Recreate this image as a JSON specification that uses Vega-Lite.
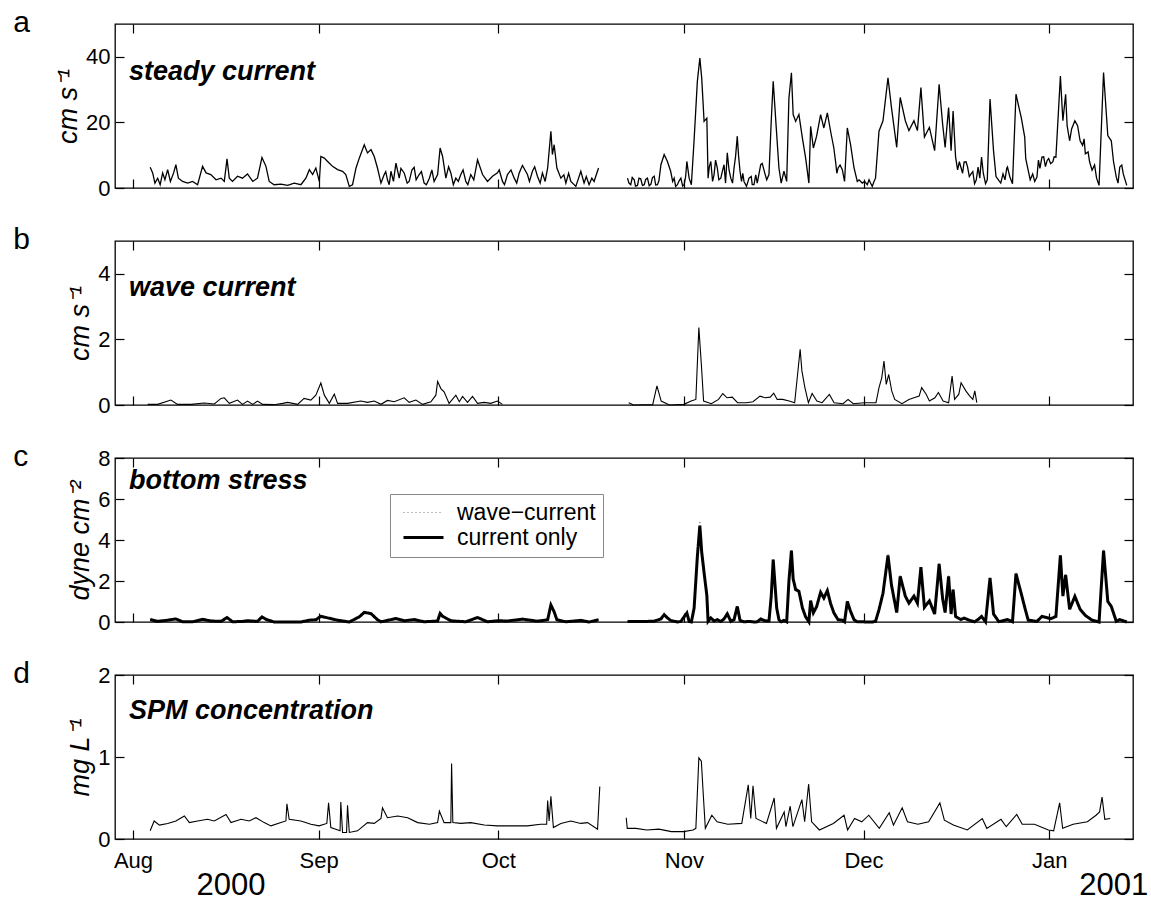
{
"$schema": "https://vega.github.io/schema/vega-lite/v6.json",
"padding": {"left": 12, "top": 7, "right": 2, "bottom": 2},
"background": "white",
"spacing": 53,
"bounds": "flush",
"config": {
  "font": "Liberation Sans",
  "view": {"stroke": "black", "strokeWidth": 1.3},
  "axis": {"grid": false, "domain": false, "tickColor": "black", "tickWidth": 1.2, "tickSize": -9, "labelColor": "black", "labelFont": "Liberation Sans", "labelFontSize": 22, "titleColor": "black", "titleFont": "Liberation Sans", "titleFontSize": 27, "titleFontStyle": "italic", "titleFontWeight": "normal", "labelOverlap": false, "labelFlush": false},
  "axisLeft": {"labelPadding": 14, "titlePadding": 3, "format": "d"},
  "axisBottom": {"labelPadding": 20},
  "text": {"font": "Liberation Sans", "color": "black"}
},
"datasets": {
"a": [
{"t":"2000-08-03T21:00","v":6.3},{"t":"2000-08-04T07:00","v":4.6},{"t":"2000-08-04T16:00","v":1.5},{"t":"2000-08-05T03:00","v":3.0},{"t":"2000-08-05T13:00","v":1.0},{"t":"2000-08-05T23:00","v":4.6},{"t":"2000-08-06T08:00","v":2.5},{"t":"2000-08-06T19:00","v":5.6},{"t":"2000-08-07T06:00","v":2.0},{"t":"2000-08-07T19:00","v":4.6},{"t":"2000-08-08T04:00","v":7.1},{"t":"2000-08-08T14:00","v":3.0},{"t":"2000-08-09T07:00","v":2.0},{"t":"2000-08-10T03:00","v":1.5},{"t":"2000-08-10T23:00","v":2.0},{"t":"2000-08-11T19:00","v":1.0},{"t":"2000-08-12T15:00","v":6.6},{"t":"2000-08-13T05:00","v":4.6},{"t":"2000-08-14T00:00","v":4.1},{"t":"2000-08-14T21:00","v":2.5},{"t":"2000-08-15T17:00","v":3.0},{"t":"2000-08-16T06:00","v":2.0},{"t":"2000-08-16T17:00","v":8.9},{"t":"2000-08-17T02:00","v":3.0},{"t":"2000-08-17T15:00","v":2.0},{"t":"2000-08-18T11:00","v":3.6},{"t":"2000-08-19T07:00","v":3.0},{"t":"2000-08-20T03:00","v":4.3},{"t":"2000-08-21T00:00","v":2.0},{"t":"2000-08-21T19:00","v":3.0},{"t":"2000-08-22T13:00","v":9.3},{"t":"2000-08-23T05:00","v":6.6},{"t":"2000-08-23T18:00","v":2.0},{"t":"2000-08-24T14:00","v":1.0},{"t":"2000-08-25T17:00","v":1.2},{"t":"2000-08-26T20:00","v":0.8},{"t":"2000-08-27T22:00","v":1.5},{"t":"2000-08-29T01:00","v":1.0},{"t":"2000-08-29T21:00","v":3.0},{"t":"2000-08-30T11:00","v":5.6},{"t":"2000-08-31T00:00","v":4.1},{"t":"2000-08-31T13:00","v":6.1},{"t":"2000-09-01T03:00","v":2.0},{"t":"2000-09-01T09:00","v":9.6},{"t":"2000-09-01T23:00","v":9.1},{"t":"2000-09-02T12:00","v":8.1},{"t":"2000-09-03T08:00","v":6.6},{"t":"2000-09-04T04:00","v":5.6},{"t":"2000-09-05T00:00","v":5.1},{"t":"2000-09-05T13:00","v":4.1},{"t":"2000-09-06T03:00","v":0.5},{"t":"2000-09-06T16:00","v":1.0},{"t":"2000-09-07T06:00","v":6.1},{"t":"2000-09-07T19:00","v":9.1},{"t":"2000-09-08T15:00","v":13.2},{"t":"2000-09-09T04:00","v":10.7},{"t":"2000-09-09T18:00","v":11.7},{"t":"2000-09-10T07:00","v":9.6},{"t":"2000-09-10T20:00","v":6.1},{"t":"2000-09-11T10:00","v":1.5},{"t":"2000-09-11T23:00","v":4.1},{"t":"2000-09-12T12:00","v":2.5},{"t":"2000-09-13T02:00","v":5.1},{"t":"2000-09-13T22:00","v":7.6},{"t":"2000-09-14T11:00","v":3.0},{"t":"2000-09-15T07:00","v":4.6},{"t":"2000-09-16T03:00","v":2.0},{"t":"2000-09-16T23:00","v":6.3},{"t":"2000-09-17T19:00","v":4.1},{"t":"2000-09-18T15:00","v":1.5},{"t":"2000-09-19T12:00","v":3.0},{"t":"2000-09-20T07:00","v":2.0},{"t":"2000-09-20T21:00","v":4.1},{"t":"2000-09-21T07:00","v":12.2},{"t":"2000-09-21T17:00","v":9.6},{"t":"2000-09-22T06:00","v":3.0},{"t":"2000-09-23T02:00","v":4.6},{"t":"2000-09-23T22:00","v":3.0},{"t":"2000-09-24T18:00","v":4.1},{"t":"2000-09-25T14:00","v":2.0},{"t":"2000-09-26T10:00","v":4.1},{"t":"2000-09-27T13:00","v":8.6},{"t":"2000-09-28T09:00","v":4.1},{"t":"2000-09-29T05:00","v":2.0},{"t":"2000-09-30T01:00","v":3.6},{"t":"2000-09-30T21:00","v":4.6},{"t":"2000-10-01T17:00","v":2.0},{"t":"2000-10-02T13:00","v":4.1},{"t":"2000-10-03T16:00","v":3.0},{"t":"2000-10-04T12:00","v":4.6},{"t":"2000-10-05T01:00","v":6.9},{"t":"2000-10-05T21:00","v":4.1},{"t":"2000-10-06T17:00","v":5.1},{"t":"2000-10-07T13:00","v":3.6},{"t":"2000-10-08T09:00","v":4.6},{"t":"2000-10-09T06:00","v":6.1},{"t":"2000-10-09T19:00","v":17.3},{"t":"2000-10-10T01:00","v":10.2},{"t":"2000-10-10T08:00","v":13.2},{"t":"2000-10-10T19:00","v":6.1},{"t":"2000-10-11T11:00","v":3.0},{"t":"2000-10-12T07:00","v":1.5},{"t":"2000-10-13T03:00","v":2.0},{"t":"2000-10-13T23:00","v":0.5},{"t":"2000-10-14T19:00","v":5.1},{"t":"2000-10-15T08:00","v":1.5},{"t":"2000-10-16T04:00","v":1.0},{"t":"2000-10-17T00:00","v":2.0},{"t":"2000-10-17T18:00","v":6.1},
{"t":"2000-10-20T00:00","v":null},
{"t":"2000-10-22T14:00","v":3.0},{"t":"2000-10-23T03:00","v":1.0},{"t":"2000-10-23T17:00","v":2.5},{"t":"2000-10-24T06:00","v":0.8},{"t":"2000-10-24T19:00","v":2.8},{"t":"2000-10-25T09:00","v":1.0},{"t":"2000-10-25T22:00","v":3.0},{"t":"2000-10-26T12:00","v":1.2},{"t":"2000-10-27T01:00","v":3.6},{"t":"2000-10-27T14:00","v":1.0},{"t":"2000-10-28T04:00","v":7.1},{"t":"2000-10-28T17:00","v":10.2},{"t":"2000-10-29T06:00","v":8.1},{"t":"2000-10-29T19:00","v":5.1},{"t":"2000-10-30T09:00","v":3.0},{"t":"2000-10-30T22:00","v":1.0},{"t":"2000-10-31T12:00","v":3.0},{"t":"2000-11-01T01:00","v":1.0},{"t":"2000-11-01T12:00","v":8.1},{"t":"2000-11-01T21:00","v":3.0},{"t":"2000-11-02T06:00","v":1.0},{"t":"2000-11-02T17:00","v":14.7},{"t":"2000-11-03T06:00","v":32.5},{"t":"2000-11-03T16:00","v":39.6},{"t":"2000-11-03T23:30","v":33.5},{"t":"2000-11-04T09:00","v":20.3},{"t":"2000-11-04T20:00","v":21.3},{"t":"2000-11-05T01:00","v":3.0},{"t":"2000-11-05T12:00","v":8.1},{"t":"2000-11-06T01:00","v":4.1},{"t":"2000-11-06T14:00","v":6.1},{"t":"2000-11-07T04:00","v":3.0},{"t":"2000-11-07T17:00","v":7.1},{"t":"2000-11-08T06:00","v":10.7},{"t":"2000-11-08T20:00","v":3.0},{"t":"2000-11-09T09:00","v":6.1},{"t":"2000-11-09T22:00","v":15.8},{"t":"2000-11-10T09:00","v":5.1},{"t":"2000-11-11T01:00","v":2.0},{"t":"2000-11-11T21:00","v":3.0},{"t":"2000-11-12T17:00","v":1.0},{"t":"2000-11-13T06:00","v":1.5},{"t":"2000-11-13T20:00","v":7.1},{"t":"2000-11-14T12:00","v":4.6},{"t":"2000-11-15T05:00","v":4.1},{"t":"2000-11-15T14:00","v":20.3},{"t":"2000-11-15T22:00","v":32.5},{"t":"2000-11-16T12:00","v":16.3},{"t":"2000-11-16T21:00","v":6.1},{"t":"2000-11-17T06:00","v":1.5},{"t":"2000-11-17T17:00","v":5.1},{"t":"2000-11-18T04:00","v":2.0},{"t":"2000-11-18T13:00","v":27.4},{"t":"2000-11-18T23:00","v":35.1},{"t":"2000-11-19T06:00","v":22.4},{"t":"2000-11-19T16:00","v":20.3},{"t":"2000-11-20T05:00","v":22.4},{"t":"2000-11-20T19:00","v":15.2},{"t":"2000-11-21T08:00","v":9.1},{"t":"2000-11-21T21:00","v":1.5},{"t":"2000-11-22T04:00","v":18.8},{"t":"2000-11-22T15:00","v":12.2},{"t":"2000-11-23T04:00","v":15.8},{"t":"2000-11-23T20:00","v":22.4},{"t":"2000-11-24T09:00","v":18.3},{"t":"2000-11-24T23:00","v":22.9},{"t":"2000-11-25T12:00","v":17.3},{"t":"2000-11-26T01:00","v":12.2},{"t":"2000-11-26T18:00","v":6.1},{"t":"2000-11-27T11:00","v":5.6},{"t":"2000-11-27T20:00","v":2.0},{"t":"2000-11-28T07:00","v":18.3},{"t":"2000-11-28T20:00","v":13.2},{"t":"2000-11-29T10:00","v":6.1},{"t":"2000-11-29T23:00","v":2.0},{"t":"2000-11-30T19:00","v":1.5},{"t":"2000-12-01T15:00","v":1.0},{"t":"2000-12-02T11:00","v":0.5},{"t":"2000-12-03T00:00","v":3.0},{"t":"2000-12-03T14:00","v":17.3},{"t":"2000-12-04T06:00","v":20.5},{"t":"2000-12-05T02:00","v":33.6},{"t":"2000-12-05T16:00","v":24.5},{"t":"2000-12-06T13:00","v":12.4},{"t":"2000-12-07T03:00","v":27.6},{"t":"2000-12-07T23:30","v":20.5},{"t":"2000-12-08T14:00","v":17.5},{"t":"2000-12-09T10:00","v":20.5},{"t":"2000-12-10T00:00","v":17.5},{"t":"2000-12-10T14:00","v":30.6},{"t":"2000-12-11T04:00","v":15.5},{"t":"2000-12-12T00:00","v":18.5},{"t":"2000-12-12T21:00","v":11.4},{"t":"2000-12-13T15:00","v":31.6},{"t":"2000-12-14T05:00","v":19.5},{"t":"2000-12-14T15:00","v":12.4},{"t":"2000-12-15T05:00","v":24.5},{"t":"2000-12-15T15:00","v":11.4},{"t":"2000-12-15T23:00","v":23.5},{"t":"2000-12-16T09:00","v":9.4},{"t":"2000-12-17T06:00","v":6.4},{"t":"2000-12-17T19:00","v":7.9},{"t":"2000-12-18T09:00","v":6.4},{"t":"2000-12-18T23:00","v":4.3},{"t":"2000-12-19T13:00","v":1.3},{"t":"2000-12-20T03:00","v":6.4},{"t":"2000-12-20T17:00","v":9.4},{"t":"2000-12-21T09:00","v":1.3},{"t":"2000-12-22T03:00","v":27.1},{"t":"2000-12-22T17:00","v":11.4},{"t":"2000-12-23T14:00","v":2.3},{"t":"2000-12-24T07:00","v":4.3},{"t":"2000-12-25T01:00","v":6.4},{"t":"2000-12-25T21:00","v":1.3},{"t":"2000-12-26T11:00","v":28.6},{"t":"2000-12-26T23:00","v":24.5},{"t":"2000-12-27T08:00","v":21.5},{"t":"2000-12-27T22:00","v":15.5},{"t":"2000-12-28T12:00","v":5.4},{"t":"2000-12-29T06:00","v":4.3},{"t":"2000-12-29T23:00","v":3.3},{"t":"2000-12-30T19:00","v":9.4},{"t":"2000-12-31T16:00","v":8.4},{"t":"2001-01-01T06:00","v":7.4},{"t":"2001-01-02T03:00","v":9.4},{"t":"2001-01-02T21:00","v":34.1},{"t":"2001-01-03T07:00","v":20.5},{"t":"2001-01-03T18:00","v":28.6},{"t":"2001-01-04T10:00","v":14.4},{"t":"2001-01-05T07:00","v":20.5},{"t":"2001-01-06T04:00","v":14.4},{"t":"2001-01-07T01:00","v":10.4},{"t":"2001-01-08T04:00","v":5.4},{"t":"2001-01-09T08:00","v":0.8},{"t":"2001-01-10T02:00","v":35.2},{"t":"2001-01-10T19:00","v":16.0},{"t":"2001-01-11T09:00","v":14.4},{"t":"2001-01-12T05:00","v":3.3},{"t":"2001-01-12T19:00","v":6.4},{"t":"2001-01-13T09:00","v":4.3},{"t":"2001-01-13T23:00","v":0.8},
{"t":"2000-09-12T05:00","v":5.0},{"t":"2000-09-12T19:00","v":1.0},{"t":"2000-09-13T12:00","v":2.0},{"t":"2000-09-14T18:00","v":6.0},{"t":"2000-09-15T19:00","v":1.5},{"t":"2000-09-16T14:00","v":5.5},{"t":"2000-09-17T07:00","v":2.5},{"t":"2000-09-18T04:00","v":5.0},{"t":"2000-09-19T00:00","v":1.0},{"t":"2000-09-19T22:00","v":5.5},{"t":"2000-09-22T17:00","v":6.5},{"t":"2000-09-23T12:00","v":1.0},{"t":"2000-09-24T08:00","v":2.0},{"t":"2000-09-25T03:00","v":5.5},{"t":"2000-09-25T22:00","v":1.0},{"t":"2000-09-26T22:00","v":2.5},{"t":"2000-10-01T04:00","v":5.5},{"t":"2000-10-02T01:00","v":1.0},{"t":"2000-10-03T03:00","v":5.5},{"t":"2000-10-04T02:00","v":1.5},{"t":"2000-10-06T05:00","v":2.0},{"t":"2000-10-07T02:00","v":6.5},{"t":"2000-10-08T00:00","v":1.5},{"t":"2000-10-08T20:00","v":2.0},{"t":"2000-10-11T23:00","v":4.0},{"t":"2000-10-12T18:00","v":4.5},{"t":"2000-10-15T17:00","v":3.5},{"t":"2000-10-16T15:00","v":3.0},
{"t":"2000-10-22T20:00","v":1.5},{"t":"2000-10-23T09:00","v":3.2},{"t":"2000-10-23T22:00","v":0.6},{"t":"2000-10-24T12:00","v":3.0},{"t":"2000-10-25T02:00","v":0.8},{"t":"2000-10-25T15:00","v":2.6},{"t":"2000-10-26T05:00","v":0.7},{"t":"2000-10-26T18:00","v":3.2},{"t":"2000-10-27T07:00","v":0.9},{"t":"2000-10-27T20:00","v":2.2},{"t":"2000-10-30T03:00","v":2.0},{"t":"2000-10-30T15:00","v":0.5},{"t":"2000-10-31T05:00","v":2.2},{"t":"2000-10-31T19:00","v":0.6},{"t":"2000-11-01T07:00","v":3.5},
{"t":"2000-11-05T06:00","v":6.5},{"t":"2000-11-05T19:00","v":2.0},{"t":"2000-11-06T07:00","v":8.5},{"t":"2000-11-06T20:00","v":2.5},{"t":"2000-11-07T10:00","v":5.0},{"t":"2000-11-07T23:00","v":1.5},{"t":"2000-11-08T13:00","v":5.5},{"t":"2000-11-09T03:00","v":1.5},{"t":"2000-11-09T15:00","v":9.5},{"t":"2000-11-10T03:00","v":10.0},{"t":"2000-11-10T15:00","v":2.0},{"t":"2000-11-10T20:00","v":4.5},{"t":"2000-11-11T11:00","v":0.5},{"t":"2000-11-12T06:00","v":3.5},{"t":"2000-11-12T10:00","v":1.0},{"t":"2000-11-13T00:00","v":4.0},{"t":"2000-11-14T02:00","v":7.5},{"t":"2000-11-14T20:00","v":2.5},
{"t":"2000-11-26T08:00","v":8.0},{"t":"2000-11-26T13:00","v":4.5},{"t":"2000-11-27T02:00","v":7.0},
{"t":"2000-11-30T06:00","v":2.5},{"t":"2000-12-01T04:00","v":2.0},{"t":"2000-12-01T22:00","v":2.5},{"t":"2000-12-02T04:00","v":1.5},{"t":"2000-12-02T18:00","v":2.0},
{"t":"2000-12-16T17:00","v":5.5},{"t":"2000-12-17T00:00","v":8.0},{"t":"2000-12-17T13:00","v":4.5},{"t":"2000-12-18T03:00","v":8.0},{"t":"2000-12-18T16:00","v":3.5},{"t":"2000-12-19T06:00","v":5.0},{"t":"2000-12-19T20:00","v":2.5},{"t":"2000-12-20T10:00","v":3.0},{"t":"2000-12-21T00:00","v":4.5},{"t":"2000-12-21T16:00","v":2.5},
{"t":"2000-12-23T03:00","v":3.5},{"t":"2000-12-23T22:00","v":1.5},{"t":"2000-12-24T15:00","v":2.5},{"t":"2000-12-24T22:00","v":6.0},{"t":"2000-12-25T10:00","v":3.5},
{"t":"2000-12-28T02:00","v":9.0},{"t":"2000-12-28T20:00","v":2.5},{"t":"2000-12-29T14:00","v":2.0},{"t":"2000-12-30T05:00","v":8.5},{"t":"2000-12-30T11:00","v":6.0},{"t":"2000-12-31T02:00","v":9.5},{"t":"2000-12-31T09:00","v":6.5},{"t":"2000-12-31T22:00","v":9.0},{"t":"2001-01-01T15:00","v":8.0},{"t":"2001-01-01T20:00","v":9.5},
{"t":"2001-01-04T00:00","v":19.0},{"t":"2001-01-04T18:00","v":18.0},{"t":"2001-01-05T18:00","v":19.0},{"t":"2001-01-06T14:00","v":13.0},{"t":"2001-01-06T20:00","v":15.0},{"t":"2001-01-07T12:00","v":11.0},{"t":"2001-01-07T18:00","v":8.0},{"t":"2001-01-08T14:00","v":7.0},{"t":"2001-01-08T22:00","v":3.0},
{"t":"2001-01-11T18:00","v":8.0},{"t":"2001-01-12T12:00","v":1.5},{"t":"2001-01-13T03:00","v":7.0}
],
"b": [
{"t":"2000-08-03T11:00","v":0.02},{"t":"2000-08-05T03:00","v":0.02},{"t":"2000-08-07T08:00","v":0.15},{"t":"2000-08-08T11:00","v":0.02},{"t":"2000-08-10T16:00","v":0.02},{"t":"2000-08-12T22:00","v":0.06},{"t":"2000-08-14T14:00","v":0.03},{"t":"2000-08-15T17:00","v":0.2},{"t":"2000-08-16T06:00","v":0.22},{"t":"2000-08-17T02:00","v":0.05},{"t":"2000-08-18T11:00","v":0.15},{"t":"2000-08-19T07:00","v":0.02},{"t":"2000-08-20T03:00","v":0.12},{"t":"2000-08-21T00:00","v":0.02},{"t":"2000-08-21T19:00","v":0.12},{"t":"2000-08-22T16:00","v":0.02},{"t":"2000-08-24T14:00","v":0.01},{"t":"2000-08-26T00:00","v":0.05},{"t":"2000-08-26T20:00","v":0.08},{"t":"2000-08-28T12:00","v":0.02},{"t":"2000-08-29T14:00","v":0.2},{"t":"2000-08-30T17:00","v":0.15},{"t":"2000-08-31T13:00","v":0.3},{"t":"2000-09-01T09:00","v":0.67},{"t":"2000-09-01T23:00","v":0.3},{"t":"2000-09-02T19:00","v":0.05},{"t":"2000-09-03T15:00","v":0.33},{"t":"2000-09-04T04:00","v":0.05},{"t":"2000-09-05T20:00","v":0.05},{"t":"2000-09-08T01:00","v":0.12},{"t":"2000-09-09T04:00","v":0.08},{"t":"2000-09-10T07:00","v":0.12},{"t":"2000-09-11T10:00","v":0.02},{"t":"2000-09-12T12:00","v":0.14},{"t":"2000-09-13T15:00","v":0.1},{"t":"2000-09-15T07:00","v":0.22},{"t":"2000-09-16T03:00","v":0.08},{"t":"2000-09-17T06:00","v":0.15},{"t":"2000-09-18T09:00","v":0.02},{"t":"2000-09-19T18:00","v":0.1},{"t":"2000-09-20T14:00","v":0.3},{"t":"2000-09-20T21:00","v":0.72},{"t":"2000-09-21T10:00","v":0.5},{"t":"2000-09-21T23:00","v":0.4},{"t":"2000-09-22T19:00","v":0.05},{"t":"2000-09-23T22:00","v":0.3},{"t":"2000-09-24T12:00","v":0.1},{"t":"2000-09-25T01:00","v":0.26},{"t":"2000-09-25T21:00","v":0.08},{"t":"2000-09-26T17:00","v":0.26},{"t":"2000-09-27T13:00","v":0.05},{"t":"2000-09-28T16:00","v":0.08},{"t":"2000-09-29T18:00","v":0.05},{"t":"2000-09-30T21:00","v":0.12},{"t":"2000-10-01T17:00","v":0.02},
{"t":"2000-10-10T00:00","v":null},
{"t":"2000-10-22T19:00","v":0.07},{"t":"2000-10-23T14:00","v":0.0},{"t":"2000-10-26T19:00","v":0.01},{"t":"2000-10-27T12:00","v":0.58},{"t":"2000-10-28T05:00","v":0.12},{"t":"2000-10-29T14:00","v":0.0},{"t":"2000-11-01T00:00","v":0.02},{"t":"2000-11-02T05:00","v":0.12},{"t":"2000-11-03T00:00","v":0.17},{"t":"2000-11-03T12:00","v":2.36},{"t":"2000-11-03T22:00","v":1.24},{"t":"2000-11-04T07:00","v":0.12},{"t":"2000-11-05T14:00","v":0.04},{"t":"2000-11-06T19:00","v":0.17},{"t":"2000-11-07T12:00","v":0.35},{"t":"2000-11-08T05:00","v":0.22},{"t":"2000-11-09T02:00","v":0.24},{"t":"2000-11-09T23:00","v":0.07},{"t":"2000-11-11T10:00","v":0.07},{"t":"2000-11-12T13:00","v":0.1},{"t":"2000-11-13T17:00","v":0.27},{"t":"2000-11-14T14:00","v":0.22},{"t":"2000-11-15T10:00","v":0.24},{"t":"2000-11-16T00:00","v":0.36},{"t":"2000-11-16T14:00","v":0.17},{"t":"2000-11-17T12:00","v":0.17},{"t":"2000-11-18T14:00","v":0.12},{"t":"2000-11-19T12:00","v":0.07},{"t":"2000-11-20T10:00","v":1.7},{"t":"2000-11-20T17:00","v":1.04},{"t":"2000-11-21T05:00","v":0.53},{"t":"2000-11-21T19:00","v":0.07},{"t":"2000-11-22T10:00","v":0.35},{"t":"2000-11-23T05:00","v":0.12},{"t":"2000-11-24T02:00","v":0.07},{"t":"2000-11-25T07:00","v":0.32},{"t":"2000-11-26T02:00","v":0.07},{"t":"2000-11-27T14:00","v":0.04},{"t":"2000-11-28T10:00","v":0.17},{"t":"2000-11-29T07:00","v":0.04},{"t":"2000-12-01T02:00","v":0.07},{"t":"2000-12-03T02:00","v":0.07},{"t":"2000-12-03T14:00","v":0.53},{"t":"2000-12-04T01:00","v":0.83},{"t":"2000-12-04T10:00","v":1.34},{"t":"2000-12-04T19:00","v":0.63},{"t":"2000-12-05T05:00","v":0.93},{"t":"2000-12-05T17:00","v":0.43},{"t":"2000-12-06T05:00","v":0.17},{"t":"2000-12-07T10:00","v":0.04},{"t":"2000-12-08T14:00","v":0.17},{"t":"2000-12-09T10:00","v":0.22},{"t":"2000-12-10T07:00","v":0.27},{"t":"2000-12-10T17:00","v":0.53},{"t":"2000-12-11T11:00","v":0.33},{"t":"2000-12-12T00:00","v":0.12},{"t":"2000-12-12T22:00","v":0.22},{"t":"2000-12-13T12:00","v":0.38},{"t":"2000-12-14T07:00","v":0.12},{"t":"2000-12-15T05:00","v":0.07},{"t":"2000-12-15T19:00","v":0.88},{"t":"2000-12-16T05:00","v":0.17},{"t":"2000-12-16T22:00","v":0.33},{"t":"2000-12-17T07:00","v":0.68},{"t":"2000-12-18T02:00","v":0.43},{"t":"2000-12-18T17:00","v":0.28},{"t":"2000-12-19T06:00","v":0.17},{"t":"2000-12-19T14:00","v":0.43},{"t":"2000-12-19T22:00","v":0.07}
],
"c": [
{"t":"2000-08-03T21:00","cur":0.12,"wc":0.13},{"t":"2000-08-05T03:00","cur":0.03,"wc":0.03},{"t":"2000-08-06T19:00","cur":0.09,"wc":0.1},{"t":"2000-08-08T04:00","cur":0.15,"wc":0.16},{"t":"2000-08-09T07:00","cur":0.01,"wc":0.01},{"t":"2000-08-10T23:00","cur":0.01,"wc":0.01},{"t":"2000-08-12T15:00","cur":0.13,"wc":0.14},{"t":"2000-08-14T00:00","cur":0.05,"wc":0.05},{"t":"2000-08-15T17:00","cur":0.03,"wc":0.04},{"t":"2000-08-16T17:00","cur":0.22,"wc":0.24},{"t":"2000-08-17T15:00","cur":0.01,"wc":0.01},{"t":"2000-08-19T07:00","cur":0.03,"wc":0.03},{"t":"2000-08-20T03:00","cur":0.06,"wc":0.06},{"t":"2000-08-21T19:00","cur":0.03,"wc":0.03},{"t":"2000-08-22T13:00","cur":0.25,"wc":0.26},{"t":"2000-08-23T05:00","cur":0.13,"wc":0.13},{"t":"2000-08-24T14:00","cur":0.0,"wc":0.0},{"t":"2000-08-26T20:00","cur":0.0,"wc":0.0},{"t":"2000-08-29T01:00","cur":0.0,"wc":0.01},{"t":"2000-08-30T11:00","cur":0.09,"wc":0.1},{"t":"2000-08-31T13:00","cur":0.11,"wc":0.12},{"t":"2000-09-01T09:00","cur":0.28,"wc":0.31},{"t":"2000-09-02T12:00","cur":0.2,"wc":0.21},{"t":"2000-09-04T04:00","cur":0.09,"wc":0.1},{"t":"2000-09-06T03:00","cur":0.0,"wc":0.0},{"t":"2000-09-07T19:00","cur":0.25,"wc":0.26},{"t":"2000-09-08T15:00","cur":0.47,"wc":0.49},{"t":"2000-09-09T18:00","cur":0.41,"wc":0.42},{"t":"2000-09-10T20:00","cur":0.11,"wc":0.11},{"t":"2000-09-11T10:00","cur":0.01,"wc":0.01},{"t":"2000-09-13T22:00","cur":0.17,"wc":0.18},{"t":"2000-09-15T07:00","cur":0.06,"wc":0.07},{"t":"2000-09-16T23:00","cur":0.12,"wc":0.12},{"t":"2000-09-18T15:00","cur":0.01,"wc":0.01},{"t":"2000-09-20T21:00","cur":0.05,"wc":0.06},{"t":"2000-09-21T07:00","cur":0.42,"wc":0.46},{"t":"2000-09-21T17:00","cur":0.28,"wc":0.3},{"t":"2000-09-23T02:00","cur":0.06,"wc":0.06},{"t":"2000-09-25T14:00","cur":0.01,"wc":0.01},{"t":"2000-09-27T13:00","cur":0.22,"wc":0.23},{"t":"2000-09-29T05:00","cur":0.01,"wc":0.01},{"t":"2000-09-30T21:00","cur":0.06,"wc":0.06},{"t":"2000-10-02T13:00","cur":0.05,"wc":0.05},{"t":"2000-10-05T01:00","cur":0.14,"wc":0.14},{"t":"2000-10-07T13:00","cur":0.04,"wc":0.04},{"t":"2000-10-09T06:00","cur":0.11,"wc":0.11},{"t":"2000-10-09T19:00","cur":0.83,"wc":0.85},{"t":"2000-10-10T08:00","cur":0.5,"wc":0.51},{"t":"2000-10-10T19:00","cur":0.11,"wc":0.11},{"t":"2000-10-12T07:00","cur":0.01,"wc":0.01},{"t":"2000-10-14T19:00","cur":0.08,"wc":0.08},{"t":"2000-10-16T04:00","cur":0.0,"wc":0.0},{"t":"2000-10-17T18:00","cur":0.11,"wc":0.11},
{"t":"2000-10-20T00:00","cur":null,"wc":null},
{"t":"2000-10-22T14:00","cur":0.03,"wc":0.03},{"t":"2000-10-23T17:00","cur":0.02,"wc":0.02},{"t":"2000-10-24T19:00","cur":0.02,"wc":0.02},{"t":"2000-10-25T22:00","cur":0.03,"wc":0.03},{"t":"2000-10-27T01:00","cur":0.04,"wc":0.05},{"t":"2000-10-28T04:00","cur":0.15,"wc":0.17},{"t":"2000-10-28T17:00","cur":0.36,"wc":0.39},{"t":"2000-10-29T06:00","cur":0.2,"wc":0.21},{"t":"2000-10-29T19:00","cur":0.08,"wc":0.08},{"t":"2000-10-30T22:00","cur":0.0,"wc":0.0},{"t":"2000-10-31T12:00","cur":0.03,"wc":0.03},{"t":"2000-11-01T12:00","cur":0.44,"wc":0.45},{"t":"2000-11-01T21:00","cur":0.03,"wc":0.03},{"t":"2000-11-02T06:00","cur":0.0,"wc":0.0},{"t":"2000-11-02T17:00","cur":0.68,"wc":0.72},{"t":"2000-11-03T06:00","cur":3.2,"wc":3.5},{"t":"2000-11-03T16:00","cur":4.7,"wc":4.95},{"t":"2000-11-03T23:30","cur":3.4,"wc":3.6},{"t":"2000-11-04T09:00","cur":2.4,"wc":2.5},{"t":"2000-11-04T20:00","cur":1.3,"wc":1.35},{"t":"2000-11-05T01:00","cur":0.03,"wc":0.03},{"t":"2000-11-05T12:00","cur":0.2,"wc":0.21},{"t":"2000-11-06T01:00","cur":0.05,"wc":0.05},{"t":"2000-11-06T14:00","cur":0.11,"wc":0.12},{"t":"2000-11-07T04:00","cur":0.03,"wc":0.03},{"t":"2000-11-07T17:00","cur":0.15,"wc":0.16},{"t":"2000-11-08T06:00","cur":0.4,"wc":0.42},{"t":"2000-11-08T20:00","cur":0.03,"wc":0.03},{"t":"2000-11-09T09:00","cur":0.11,"wc":0.11},{"t":"2000-11-09T22:00","cur":0.76,"wc":0.78},{"t":"2000-11-10T09:00","cur":0.08,"wc":0.08},{"t":"2000-11-11T01:00","cur":0.01,"wc":0.01},{"t":"2000-11-11T21:00","cur":0.03,"wc":0.03},{"t":"2000-11-12T17:00","cur":0.0,"wc":0.0},{"t":"2000-11-13T06:00","cur":0.01,"wc":0.01},{"t":"2000-11-13T20:00","cur":0.15,"wc":0.16},{"t":"2000-11-14T12:00","cur":0.06,"wc":0.06},{"t":"2000-11-15T05:00","cur":0.05,"wc":0.05},{"t":"2000-11-15T14:00","cur":1.24,"wc":1.28},{"t":"2000-11-15T22:00","cur":3.04,"wc":3.12},{"t":"2000-11-16T12:00","cur":0.68,"wc":0.7},{"t":"2000-11-16T21:00","cur":0.11,"wc":0.11},{"t":"2000-11-17T06:00","cur":0.01,"wc":0.01},{"t":"2000-11-17T17:00","cur":0.08,"wc":0.08},{"t":"2000-11-18T04:00","cur":0.01,"wc":0.01},{"t":"2000-11-18T13:00","cur":2.0,"wc":2.05},{"t":"2000-11-18T23:00","cur":3.48,"wc":3.56},{"t":"2000-11-19T06:00","cur":2.1,"wc":2.15},{"t":"2000-11-19T16:00","cur":1.58,"wc":1.62},{"t":"2000-11-20T05:00","cur":1.5,"wc":1.6},{"t":"2000-11-20T19:00","cur":0.69,"wc":0.75},{"t":"2000-11-21T08:00","cur":0.25,"wc":0.27},{"t":"2000-11-21T21:00","cur":0.01,"wc":0.01},{"t":"2000-11-22T04:00","cur":1.04,"wc":1.07},{"t":"2000-11-22T15:00","cur":0.45,"wc":0.46},{"t":"2000-11-23T04:00","cur":0.75,"wc":0.77},{"t":"2000-11-23T20:00","cur":1.45,"wc":1.48},{"t":"2000-11-24T09:00","cur":1.17,"wc":1.2},{"t":"2000-11-24T23:00","cur":1.53,"wc":1.57},{"t":"2000-11-25T12:00","cur":0.9,"wc":0.93},{"t":"2000-11-26T01:00","cur":0.45,"wc":0.46},{"t":"2000-11-26T18:00","cur":0.11,"wc":0.11},{"t":"2000-11-27T11:00","cur":0.09,"wc":0.09},{"t":"2000-11-27T20:00","cur":0.01,"wc":0.01},{"t":"2000-11-28T07:00","cur":1.0,"wc":1.03},{"t":"2000-11-28T20:00","cur":0.52,"wc":0.53},{"t":"2000-11-29T10:00","cur":0.11,"wc":0.11},{"t":"2000-11-29T23:00","cur":0.01,"wc":0.01},{"t":"2000-11-30T19:00","cur":0.01,"wc":0.01},{"t":"2000-12-01T15:00","cur":0.0,"wc":0.0},{"t":"2000-12-02T11:00","cur":0.0,"wc":0.0},{"t":"2000-12-03T00:00","cur":0.03,"wc":0.03},{"t":"2000-12-03T14:00","cur":0.6,"wc":0.65},{"t":"2000-12-04T06:00","cur":1.4,"wc":1.5},{"t":"2000-12-05T02:00","cur":3.25,"wc":3.35},{"t":"2000-12-05T16:00","cur":1.8,"wc":1.86},{"t":"2000-12-06T13:00","cur":0.46,"wc":0.47},{"t":"2000-12-07T03:00","cur":2.23,"wc":2.27},{"t":"2000-12-07T23:30","cur":1.26,"wc":1.29},{"t":"2000-12-08T14:00","cur":0.92,"wc":0.94},{"t":"2000-12-09T10:00","cur":1.26,"wc":1.29},{"t":"2000-12-10T00:00","cur":0.92,"wc":0.95},{"t":"2000-12-10T14:00","cur":2.68,"wc":2.75},{"t":"2000-12-11T04:00","cur":0.72,"wc":0.74},{"t":"2000-12-12T00:00","cur":1.03,"wc":1.05},{"t":"2000-12-12T21:00","cur":0.39,"wc":0.4},{"t":"2000-12-13T15:00","cur":2.83,"wc":2.9},{"t":"2000-12-14T05:00","cur":1.14,"wc":1.16},{"t":"2000-12-14T15:00","cur":0.46,"wc":0.47},{"t":"2000-12-15T05:00","cur":2.23,"wc":2.3},{"t":"2000-12-15T15:00","cur":0.39,"wc":0.41},{"t":"2000-12-15T23:00","cur":1.58,"wc":1.63},{"t":"2000-12-16T09:00","cur":0.27,"wc":0.28},{"t":"2000-12-17T06:00","cur":0.12,"wc":0.13},{"t":"2000-12-17T19:00","cur":0.19,"wc":0.2},{"t":"2000-12-18T09:00","cur":0.12,"wc":0.12},{"t":"2000-12-18T23:00","cur":0.06,"wc":0.06},{"t":"2000-12-19T13:00","cur":0.01,"wc":0.01},{"t":"2000-12-20T03:00","cur":0.12,"wc":0.12},{"t":"2000-12-20T17:00","cur":0.27,"wc":0.27},{"t":"2000-12-21T09:00","cur":0.01,"wc":0.01},{"t":"2000-12-22T03:00","cur":2.15,"wc":2.18},{"t":"2000-12-22T17:00","cur":0.39,"wc":0.39},{"t":"2000-12-23T14:00","cur":0.02,"wc":0.02},{"t":"2000-12-24T07:00","cur":0.06,"wc":0.06},{"t":"2000-12-25T01:00","cur":0.12,"wc":0.12},{"t":"2000-12-25T21:00","cur":0.01,"wc":0.01},{"t":"2000-12-26T11:00","cur":2.36,"wc":2.4},{"t":"2000-12-26T23:00","cur":1.8,"wc":1.83},{"t":"2000-12-27T08:00","cur":1.39,"wc":1.41},{"t":"2000-12-27T22:00","cur":0.72,"wc":0.73},{"t":"2000-12-28T12:00","cur":0.09,"wc":0.09},{"t":"2000-12-29T06:00","cur":0.06,"wc":0.06},{"t":"2000-12-29T23:00","cur":0.03,"wc":0.03},{"t":"2000-12-30T19:00","cur":0.27,"wc":0.27},{"t":"2000-12-31T16:00","cur":0.21,"wc":0.21},{"t":"2001-01-01T06:00","cur":0.16,"wc":0.16},{"t":"2001-01-02T03:00","cur":0.27,"wc":0.27},{"t":"2001-01-02T21:00","cur":3.25,"wc":3.3},{"t":"2001-01-03T07:00","cur":1.26,"wc":1.28},{"t":"2001-01-03T18:00","cur":2.3,"wc":2.33},{"t":"2001-01-04T10:00","cur":0.62,"wc":0.63},{"t":"2001-01-05T07:00","cur":1.25,"wc":1.27},{"t":"2001-01-06T04:00","cur":0.62,"wc":0.63},{"t":"2001-01-07T01:00","cur":0.32,"wc":0.32},{"t":"2001-01-08T04:00","cur":0.09,"wc":0.09},{"t":"2001-01-09T08:00","cur":0.0,"wc":0.0},{"t":"2001-01-10T02:00","cur":3.48,"wc":3.52},{"t":"2001-01-10T19:00","cur":1.0,"wc":1.01},{"t":"2001-01-11T09:00","cur":0.76,"wc":0.77},{"t":"2001-01-12T05:00","cur":0.03,"wc":0.03},{"t":"2001-01-12T19:00","cur":0.12,"wc":0.12},{"t":"2001-01-13T09:00","cur":0.06,"wc":0.06},{"t":"2001-01-13T23:00","cur":0.0,"wc":0.0}
],
"d": [
{"t":"2000-08-03T21:00","v":0.10},{"t":"2000-08-04T13:00","v":0.22},{"t":"2000-08-05T10:00","v":0.17},{"t":"2000-08-06T19:00","v":0.19},{"t":"2000-08-08T04:00","v":0.22},{"t":"2000-08-09T14:00","v":0.28},{"t":"2000-08-10T10:00","v":0.20},{"t":"2000-08-11T19:00","v":0.22},{"t":"2000-08-13T11:00","v":0.24},{"t":"2000-08-14T14:00","v":0.22},{"t":"2000-08-16T13:00","v":0.30},{"t":"2000-08-17T09:00","v":0.20},{"t":"2000-08-19T01:00","v":0.24},{"t":"2000-08-20T10:00","v":0.22},{"t":"2000-08-21T13:00","v":0.26},{"t":"2000-08-22T22:00","v":0.20},{"t":"2000-08-24T01:00","v":0.16},{"t":"2000-08-25T17:00","v":0.20},{"t":"2000-08-26T13:00","v":0.22},{"t":"2000-08-26T17:00","v":0.43},{"t":"2000-08-27T02:00","v":0.24},{"t":"2000-08-29T01:00","v":0.22},{"t":"2000-08-30T17:00","v":0.18},{"t":"2000-09-01T02:00","v":0.16},{"t":"2000-09-02T09:00","v":0.19},{"t":"2000-09-02T16:00","v":0.44},{"t":"2000-09-03T01:00","v":0.14},{"t":"2000-09-03T21:00","v":0.12},{"t":"2000-09-04T14:00","v":0.10},{"t":"2000-09-04T17:00","v":0.45},{"t":"2000-09-05T00:00","v":0.08},{"t":"2000-09-05T16:00","v":0.08},{"t":"2000-09-05T20:00","v":0.41},{"t":"2000-09-06T03:00","v":0.08},{"t":"2000-09-07T12:00","v":0.10},{"t":"2000-09-09T04:00","v":0.20},{"t":"2000-09-10T07:00","v":0.19},{"t":"2000-09-11T10:00","v":0.25},{"t":"2000-09-11T16:00","v":0.38},{"t":"2000-09-12T12:00","v":0.26},{"t":"2000-09-14T05:00","v":0.28},{"t":"2000-09-15T21:00","v":0.26},{"t":"2000-09-17T13:00","v":0.20},{"t":"2000-09-19T12:00","v":0.18},{"t":"2000-09-20T21:00","v":0.20},{"t":"2000-09-21T04:00","v":0.34},{"t":"2000-09-21T23:00","v":0.20},{"t":"2000-09-23T02:00","v":0.20},{"t":"2000-09-23T05:00","v":0.92},{"t":"2000-09-23T10:00","v":0.20},{"t":"2000-09-24T18:00","v":0.19},{"t":"2000-09-26T10:00","v":0.20},{"t":"2000-09-28T16:00","v":0.17},{"t":"2000-09-30T21:00","v":0.16},{"t":"2000-10-03T02:00","v":0.16},{"t":"2000-10-05T21:00","v":0.16},{"t":"2000-10-08T02:00","v":0.18},{"t":"2000-10-09T02:00","v":0.18},{"t":"2000-10-09T06:00","v":0.47},{"t":"2000-10-09T12:00","v":0.22},{"t":"2000-10-09T19:00","v":0.52},{"t":"2000-10-10T05:00","v":0.14},{"t":"2000-10-11T11:00","v":0.19},{"t":"2000-10-13T03:00","v":0.22},{"t":"2000-10-14T19:00","v":0.19},{"t":"2000-10-15T22:00","v":0.20},{"t":"2000-10-17T14:00","v":0.12},{"t":"2000-10-17T23:00","v":0.64},
{"t":"2000-10-20T00:00","v":null},
{"t":"2000-10-22T09:00","v":0.26},{"t":"2000-10-22T13:00","v":0.13},{"t":"2000-10-24T00:00","v":0.13},{"t":"2000-10-25T19:00","v":0.11},{"t":"2000-10-27T20:00","v":0.12},{"t":"2000-10-29T22:00","v":0.09},{"t":"2000-10-31T23:00","v":0.09},{"t":"2000-11-02T13:00","v":0.11},{"t":"2000-11-03T00:00","v":0.13},{"t":"2000-11-03T12:00","v":0.99},{"t":"2000-11-03T22:00","v":0.95},{"t":"2000-11-04T05:00","v":0.58},{"t":"2000-11-04T14:00","v":0.13},{"t":"2000-11-05T16:00","v":0.29},{"t":"2000-11-06T13:00","v":0.21},{"t":"2000-11-08T08:00","v":0.18},{"t":"2000-11-10T16:00","v":0.19},{"t":"2000-11-11T18:00","v":0.66},{"t":"2000-11-12T04:00","v":0.25},{"t":"2000-11-12T13:00","v":0.65},{"t":"2000-11-13T01:00","v":0.25},{"t":"2000-11-14T19:00","v":0.19},{"t":"2000-11-16T02:00","v":0.50},{"t":"2000-11-16T11:00","v":0.13},{"t":"2000-11-17T18:00","v":0.33},{"t":"2000-11-18T01:00","v":0.15},{"t":"2000-11-18T18:00","v":0.40},{"t":"2000-11-19T05:00","v":0.15},{"t":"2000-11-20T17:00","v":0.48},{"t":"2000-11-21T04:00","v":0.21},{"t":"2000-11-21T20:00","v":0.67},{"t":"2000-11-22T08:00","v":0.21},{"t":"2000-11-23T15:00","v":0.11},{"t":"2000-11-25T23:00","v":0.19},{"t":"2000-11-27T18:00","v":0.29},{"t":"2000-11-28T08:00","v":0.11},{"t":"2000-11-29T12:00","v":0.25},{"t":"2000-11-30T17:00","v":0.21},{"t":"2000-12-01T21:00","v":0.29},{"t":"2000-12-03T15:00","v":0.13},{"t":"2000-12-05T07:00","v":0.32},{"t":"2000-12-06T00:00","v":0.17},{"t":"2000-12-07T11:00","v":0.38},{"t":"2000-12-08T08:00","v":0.21},{"t":"2000-12-10T02:00","v":0.18},{"t":"2000-12-11T21:00","v":0.21},{"t":"2000-12-13T18:00","v":0.44},{"t":"2000-12-14T12:00","v":0.23},{"t":"2000-12-16T00:00","v":0.17},{"t":"2000-12-18T08:00","v":0.11},{"t":"2000-12-20T20:00","v":0.25},{"t":"2000-12-21T14:00","v":0.13},{"t":"2000-12-23T23:00","v":0.24},{"t":"2000-12-24T20:00","v":0.15},{"t":"2000-12-26T14:00","v":0.30},{"t":"2000-12-27T12:00","v":0.18},{"t":"2000-12-29T13:00","v":0.18},{"t":"2000-12-31T21:00","v":0.11},{"t":"2001-01-01T18:00","v":0.10},{"t":"2001-01-02T18:00","v":0.44},{"t":"2001-01-03T06:00","v":0.13},{"t":"2001-01-05T00:00","v":0.18},{"t":"2001-01-07T09:00","v":0.21},{"t":"2001-01-08T20:00","v":0.29},{"t":"2001-01-09T10:00","v":0.33},{"t":"2001-01-09T20:00","v":0.51},{"t":"2001-01-10T07:00","v":0.24},{"t":"2001-01-11T05:00","v":0.25}
]
},
"vconcat": [
{
 "width": 1018, "height": 164,
 "layer": [
  {"data": {"name": "a"},
   "mark": {"type": "line", "color": "black", "strokeWidth": 1.3, "invalid": "break-paths-show-domains"},
   "encoding": {
    "x": {"field": "t", "type": "temporal", "scale": {"domain": [{"year":2000,"month":7,"date":29},{"year":2001,"month":1,"date":15}]}, "axis": {"orient": "bottom", "values": [{"year":2000,"month":8,"date":1},{"year":2000,"month":9,"date":1},{"year":2000,"month":10,"date":1},{"year":2000,"month":11,"date":1},{"year":2000,"month":12,"date":1},{"year":2001,"month":1,"date":1}], "labels": false, "title": null}},
    "y": {"field": "v", "type": "quantitative", "scale": {"domain": [0, 50]}, "axis": {"orient": "left", "values": [0, 20, 40], "title": "cm s⁻¹"}}
   }},
  {"data": {"values": [{}]},
   "mark": {"type": "text", "align": "left", "baseline": "alphabetic", "fontSize": 27, "fontWeight": "bold", "fontStyle": "italic"},
   "encoding": {
    "x": {"datum": {"year":2000,"month":7,"date":31,"hours":8}, "type": "temporal", "axis": {"orient": "top", "values": [{"year":2000,"month":8,"date":1},{"year":2000,"month":9,"date":1},{"year":2000,"month":10,"date":1},{"year":2000,"month":11,"date":1},{"year":2000,"month":12,"date":1},{"year":2001,"month":1,"date":1}], "labels": false, "title": null}},
    "y": {"datum": 32.9, "type": "quantitative", "axis": {"orient": "right", "values": [0, 20, 40], "labels": false, "title": null}},
    "text": {"value": "steady current"}
   }},
  {"data": {"values": [{}]},
   "mark": {"type": "text", "align": "left", "baseline": "alphabetic", "fontSize": 30},
   "encoding": {
    "x": {"datum": {"year":2000,"month":7,"date":12}, "type": "temporal", "axis": null},
    "y": {"datum": 47.56, "type": "quantitative", "axis": null},
    "text": {"value": "a"}
   }}
 ],
 "resolve": {"axis": {"x": "independent", "y": "independent"}}
},
{
 "width": 1018, "height": 164,
 "layer": [
  {"data": {"name": "b"},
   "mark": {"type": "line", "color": "black", "strokeWidth": 1.1, "invalid": "break-paths-show-domains"},
   "encoding": {
    "x": {"field": "t", "type": "temporal", "scale": {"domain": [{"year":2000,"month":7,"date":29},{"year":2001,"month":1,"date":15}]}, "axis": {"orient": "bottom", "values": [{"year":2000,"month":8,"date":1},{"year":2000,"month":9,"date":1},{"year":2000,"month":10,"date":1},{"year":2000,"month":11,"date":1},{"year":2000,"month":12,"date":1},{"year":2001,"month":1,"date":1}], "labels": false, "title": null}},
    "y": {"field": "v", "type": "quantitative", "scale": {"domain": [0, 5]}, "axis": {"orient": "left", "values": [0, 2, 4], "title": "cm s⁻¹"}}
   }},
  {"data": {"values": [{}]},
   "mark": {"type": "text", "align": "left", "baseline": "alphabetic", "fontSize": 27, "fontWeight": "bold", "fontStyle": "italic"},
   "encoding": {
    "x": {"datum": {"year":2000,"month":7,"date":31,"hours":8}, "type": "temporal", "axis": {"orient": "top", "values": [{"year":2000,"month":8,"date":1},{"year":2000,"month":9,"date":1},{"year":2000,"month":10,"date":1},{"year":2000,"month":11,"date":1},{"year":2000,"month":12,"date":1},{"year":2001,"month":1,"date":1}], "labels": false, "title": null}},
    "y": {"datum": 3.32, "type": "quantitative", "axis": {"orient": "right", "values": [0, 2, 4], "labels": false, "title": null}},
    "text": {"value": "wave current"}
   }},
  {"data": {"values": [{}]},
   "mark": {"type": "text", "align": "left", "baseline": "alphabetic", "fontSize": 30},
   "encoding": {
    "x": {"datum": {"year":2000,"month":7,"date":12}, "type": "temporal", "axis": null},
    "y": {"datum": 4.756, "type": "quantitative", "axis": null},
    "text": {"value": "b"}
   }}
 ],
 "resolve": {"axis": {"x": "independent", "y": "independent"}}
},
{
 "width": 1018, "height": 164,
 "layer": [
  {"data": {"name": "c"},
   "transform": [{"fold": ["wc", "cur"], "as": ["series", "v"]}],
   "mark": {"type": "line", "invalid": "break-paths-show-domains"},
   "encoding": {
    "x": {"field": "t", "type": "temporal", "scale": {"domain": [{"year":2000,"month":7,"date":29},{"year":2001,"month":1,"date":15}]}, "axis": {"orient": "bottom", "values": [{"year":2000,"month":8,"date":1},{"year":2000,"month":9,"date":1},{"year":2000,"month":10,"date":1},{"year":2000,"month":11,"date":1},{"year":2000,"month":12,"date":1},{"year":2001,"month":1,"date":1}], "labels": false, "title": null}},
    "y": {"field": "v", "type": "quantitative", "scale": {"domain": [0, 8]}, "axis": {"orient": "left", "values": [0, 2, 4, 6, 8], "title": "dyne  cm⁻²"}},
    "color": {"field": "series", "type": "nominal", "scale": {"domain": ["wc", "cur"], "range": ["#777777", "#000000"]}, "legend": {"orient": "none", "legendX": 275, "legendY": 470, "title": null, "labelExpr": "datum.value == 'wc' ? 'wave−current' : 'current only'", "symbolType": "M-4,0H4", "symbolSize": 100, "symbolOffset": 15, "labelFontSize": 23, "labelFont": "Liberation Sans", "labelColor": "black", "strokeColor": "#888888", "fillColor": "white", "padding": 7, "labelOffset": 22, "rowPadding": 1}},
    "strokeDash": {"field": "series", "type": "nominal", "scale": {"domain": ["wc", "cur"], "range": [[1, 3], [1, 0]]}, "legend": {"orient": "none", "legendX": 275, "legendY": 470, "title": null, "labelExpr": "datum.value == 'wc' ? 'wave−current' : 'current only'", "symbolType": "M-4,0H4", "symbolSize": 100, "symbolOffset": 15, "labelFontSize": 23, "labelFont": "Liberation Sans", "labelColor": "black", "strokeColor": "#888888", "fillColor": "white", "padding": 7, "labelOffset": 22, "rowPadding": 1}},
    "strokeWidth": {"field": "series", "type": "nominal", "scale": {"domain": ["wc", "cur"], "range": [1, 3]}, "legend": {"orient": "none", "legendX": 275, "legendY": 470, "title": null, "labelExpr": "datum.value == 'wc' ? 'wave−current' : 'current only'", "symbolType": "M-4,0H4", "symbolSize": 100, "symbolOffset": 15, "labelFontSize": 23, "labelFont": "Liberation Sans", "labelColor": "black", "strokeColor": "#888888", "fillColor": "white", "padding": 7, "labelOffset": 22, "rowPadding": 1}}
   }},
  {"data": {"values": [{}]},
   "mark": {"type": "text", "align": "left", "baseline": "alphabetic", "fontSize": 27, "fontWeight": "bold", "fontStyle": "italic"},
   "encoding": {
    "x": {"datum": {"year":2000,"month":7,"date":31,"hours":8}, "type": "temporal", "axis": {"orient": "top", "values": [{"year":2000,"month":8,"date":1},{"year":2000,"month":9,"date":1},{"year":2000,"month":10,"date":1},{"year":2000,"month":11,"date":1},{"year":2000,"month":12,"date":1},{"year":2001,"month":1,"date":1}], "labels": false, "title": null}},
    "y": {"datum": 6.5, "type": "quantitative", "axis": {"orient": "right", "values": [0, 2, 4, 6, 8], "labels": false, "title": null}},
    "text": {"value": "bottom stress"}
   }},
  {"data": {"values": [{}]},
   "mark": {"type": "text", "align": "left", "baseline": "alphabetic", "fontSize": 30},
   "encoding": {
    "x": {"datum": {"year":2000,"month":7,"date":12}, "type": "temporal", "axis": null},
    "y": {"datum": 7.61, "type": "quantitative", "axis": null},
    "text": {"value": "c"}
   }}
 ],
 "resolve": {"axis": {"x": "independent", "y": "independent"}}
},
{
 "width": 1018, "height": 164,
 "layer": [
  {"data": {"name": "d"},
   "mark": {"type": "line", "color": "black", "strokeWidth": 1.1, "invalid": "break-paths-show-domains"},
   "encoding": {
    "x": {"field": "t", "type": "temporal", "scale": {"domain": [{"year":2000,"month":7,"date":29},{"year":2001,"month":1,"date":15}]}, "axis": {"orient": "bottom", "values": [{"year":2000,"month":8,"date":1},{"year":2000,"month":9,"date":1},{"year":2000,"month":10,"date":1},{"year":2000,"month":11,"date":1},{"year":2000,"month":12,"date":1},{"year":2001,"month":1,"date":1}], "format": "%b", "title": null}},
    "y": {"field": "v", "type": "quantitative", "scale": {"domain": [0, 2]}, "axis": {"orient": "left", "values": [0, 1, 2], "title": "mg L⁻¹"}}
   }},
  {"data": {"values": [{}]},
   "mark": {"type": "text", "align": "left", "baseline": "alphabetic", "fontSize": 27, "fontWeight": "bold", "fontStyle": "italic"},
   "encoding": {
    "x": {"datum": {"year":2000,"month":7,"date":31,"hours":8}, "type": "temporal", "axis": {"orient": "top", "values": [{"year":2000,"month":8,"date":1},{"year":2000,"month":9,"date":1},{"year":2000,"month":10,"date":1},{"year":2000,"month":11,"date":1},{"year":2000,"month":12,"date":1},{"year":2001,"month":1,"date":1}], "labels": false, "title": null}},
    "y": {"datum": 1.467, "type": "quantitative", "axis": {"orient": "right", "values": [0, 1, 2], "labels": false, "title": null}},
    "text": {"value": "SPM concentration"}
   }},
  {"data": {"values": [{}]},
   "mark": {"type": "text", "align": "left", "baseline": "alphabetic", "fontSize": 30},
   "encoding": {
    "x": {"datum": {"year":2000,"month":7,"date":12}, "type": "temporal", "axis": null},
    "y": {"datum": 1.902, "type": "quantitative", "axis": null},
    "text": {"value": "d"}
   }},
  {"data": {"values": [{}]},
   "mark": {"type": "text", "align": "center", "baseline": "alphabetic", "fontSize": 31},
   "encoding": {
    "x": {"datum": {"year":2000,"month":8,"date":17,"hours":9}, "type": "temporal", "axis": null},
    "y": {"datum": -0.68, "type": "quantitative", "axis": null},
    "text": {"value": "2000"}
   }},
  {"data": {"values": [{}]},
   "mark": {"type": "text", "align": "center", "baseline": "alphabetic", "fontSize": 31},
   "encoding": {
    "x": {"datum": {"year":2001,"month":1,"date":11,"hours":19}, "type": "temporal", "axis": null},
    "y": {"datum": -0.68, "type": "quantitative", "axis": null},
    "text": {"value": "2001"}
   }}
 ],
 "resolve": {"axis": {"x": "independent", "y": "independent"}}
}
]
}
